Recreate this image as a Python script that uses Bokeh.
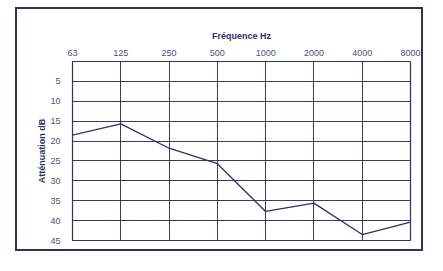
from bokeh.plotting import figure
from bokeh.models import Range1d, FixedTicker
from bokeh.embed import file_html
from bokeh.resources import INLINE

freqs = ["63", "125", "250", "500", "1000", "2000", "4000", "8000"]
atten = [18.5, 15.7, 21.8, 25.7, 37.7, 35.6, 43.5, 40.4]
y_ticks = [5, 10, 15, 20, 25, 30, 35, 40, 45]

NAVY = "#2b3070"
TXT = "#4a5088"

x = list(range(len(freqs)))

p = figure(width=408, height=244, output_backend="svg", toolbar_location=None,
           x_range=Range1d(0, len(freqs) - 1), y_range=Range1d(45, 0),
           x_axis_location="above",
           min_border_left=55, min_border_right=15, min_border_top=52, min_border_bottom=13)

p.margin = (7, 0, 0, 15)
p.styles = {"border": "2px solid " + NAVY}
p.background_fill_color = "white"
p.border_fill_color = "white"
p.outline_line_color = NAVY
p.outline_line_width = 1.2

xa = p.xaxis[0]
xa.ticker = FixedTicker(ticks=x)
xa.major_label_overrides = {i: f for i, f in enumerate(freqs)}
xa.axis_label = "Fréquence Hz"
xa.axis_label_text_font = "Liberation Sans"
xa.axis_label_text_font_style = "bold"
xa.axis_label_text_font_size = "9px"
xa.axis_label_text_color = NAVY
xa.axis_label_standoff = 6
xa.major_label_text_font = "Liberation Sans"
xa.major_label_text_font_size = "9px"
xa.major_label_text_color = TXT
xa.major_label_standoff = 0
xa.axis_line_color = None
xa.major_tick_line_color = None
xa.minor_tick_line_color = None

ya = p.yaxis[0]
ya.ticker = FixedTicker(ticks=y_ticks)
ya.axis_label = "Atténuation dB"
ya.axis_label_text_font = "Liberation Sans"
ya.axis_label_text_font_style = "bold"
ya.axis_label_text_font_size = "9px"
ya.axis_label_text_color = NAVY
ya.axis_label_standoff = 0
ya.major_label_text_font = "Liberation Sans"
ya.major_label_text_font_size = "9px"
ya.major_label_text_color = TXT
ya.major_label_standoff = 6
ya.axis_line_color = None
ya.major_tick_line_color = None
ya.minor_tick_line_color = None

p.xgrid.grid_line_color = NAVY
p.xgrid.grid_line_alpha = 0.95
p.ygrid.grid_line_color = NAVY
p.ygrid.grid_line_alpha = 0.95

p.line(x, atten, line_color=NAVY, line_width=1.3)

open("out.html", "w").write(file_html(p, INLINE))
